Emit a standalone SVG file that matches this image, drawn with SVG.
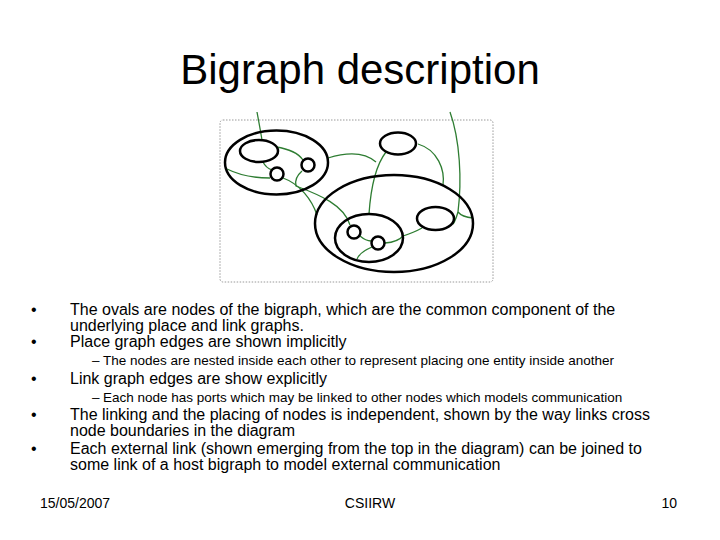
<svg xmlns="http://www.w3.org/2000/svg" width="720" height="540" viewBox="0 0 720 540">
<style>
text{font-family:"Liberation Sans",Arial,sans-serif;fill:#000}
.b{font-size:16px}.s{font-size:13.5px}
.n{fill:none;stroke:#000;stroke-width:2.5}
.l{fill:none;stroke:#2e7d32;stroke-width:1.3}
</style>
<rect width="720" height="540" fill="#fff"/>
<text x="360" y="84" font-size="42" text-anchor="middle">Bigraph description</text>
<rect x="220" y="120" width="273" height="162" rx="3" fill="none" stroke="#999" stroke-dasharray="1.5,1.5"/>
<g id="links" class="l">
<path d="M257,112 Q260,128 262,140"/>
<path d="M276,147 Q296,150 303,160"/>
<path d="M263,162 Q266,168 272,170"/>
<path d="M227,169 Q245,178 270,178"/>
<path d="M302,171 Q294,178 296,186 C320,195 344,205 350,225"/>
<path d="M283,178 C300,184 312,200 317,215"/>
<path d="M328,158 Q360,148 376,162"/>
<path d="M386,152 Q372,170 369,214"/>
<path d="M418,144 C438,150 445,170 443,185"/>
<path d="M450,112 C460,140 462,180 458,212 Q462,217 473,218"/>
<path d="M458,212 Q455,222 453,224"/>
<path d="M385,243 Q398,242 403,236 Q415,232 422,228"/>
<path d="M360,236 Q366,241 371,241"/>
<path d="M372,247 Q360,252 357,259"/>
</g>
<g id="outerLeft"><ellipse class="n" cx="276.5" cy="162.5" rx="51.5" ry="32"/></g>
<g id="innerLeft"><ellipse class="n" cx="259" cy="151" rx="19" ry="11" fill="#fff"/></g>
<g id="c1"><circle class="n" cx="277" cy="174" r="6.5" fill="#fff"/></g>
<g id="c2"><circle class="n" cx="308" cy="165" r="6.5" fill="#fff"/></g>
<g id="topOval"><ellipse class="n" cx="398" cy="143.5" rx="18" ry="11" fill="#fff"/></g>
<g id="outerRight"><ellipse class="n" cx="394" cy="223.5" rx="79" ry="48.5"/></g>
<g id="innerRight"><ellipse class="n" cx="369" cy="238" rx="34" ry="24"/></g>
<g id="rightOval"><ellipse class="n" cx="435.5" cy="218.5" rx="18.5" ry="11.5" fill="#fff"/></g>
<g id="c3"><circle class="n" cx="354" cy="232" r="6.5" fill="#fff"/></g>
<g id="c4"><circle class="n" cx="378" cy="243" r="6.5" fill="#fff"/></g>
<g class="b">
<text x="31" y="315">•</text><text x="70" y="315">The ovals are nodes of the bigraph, which are the common component of the</text>
<text x="70" y="331">underlying place and link graphs.</text>
<text x="31" y="347">•</text><text x="70" y="347">Place graph edges are shown implicitly</text>
<text x="31" y="384">•</text><text x="70" y="384">Link graph edges are show explicitly</text>
<text x="31" y="420">•</text><text x="70" y="420">The linking and the placing of nodes is independent, shown by the way links cross</text>
<text x="70" y="436">node boundaries in the diagram</text>
<text x="31" y="454">•</text><text x="70" y="454">Each external link (shown emerging from the top in the diagram) can be joined to</text>
<text x="70" y="470">some link of a host bigraph to model external communication</text>
</g>
<g class="s">
<text x="92" y="365">–</text><text x="103" y="365">The nodes are nested inside each other to represent placing one entity inside another</text>
<text x="92" y="402">–</text><text x="103" y="402">Each node has ports which may be linked to other nodes which models communication</text>
</g>
<text x="40" y="508" font-size="14">15/05/2007</text>
<text x="370" y="508" font-size="14" text-anchor="middle">CSIIRW</text>
<text x="677" y="508" font-size="14" text-anchor="end">10</text>
</svg>
